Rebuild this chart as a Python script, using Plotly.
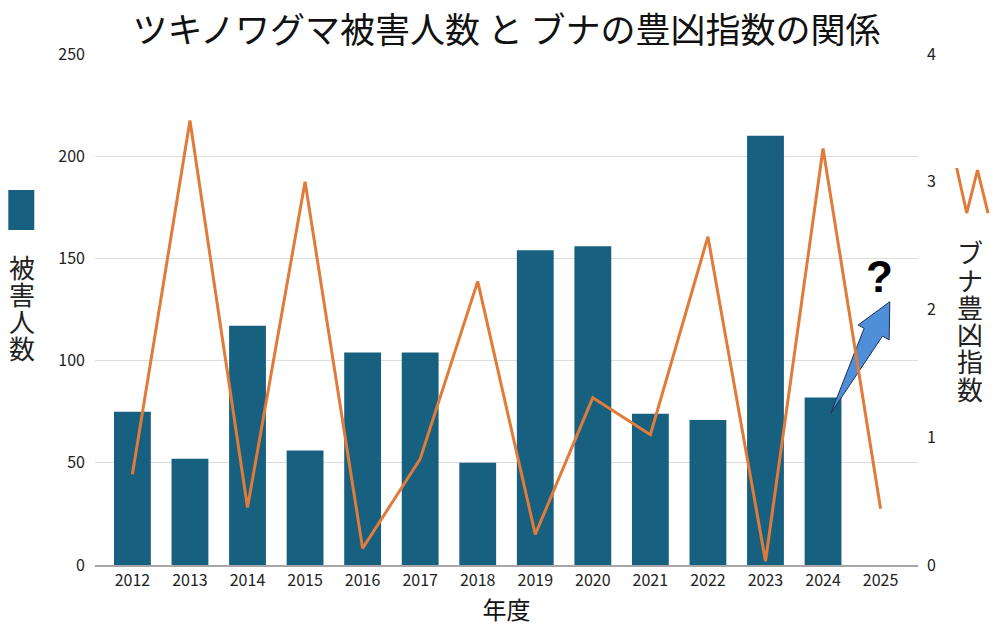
import plotly.graph_objects as go

# ---- data ----
years = [2012, 2013, 2014, 2015, 2016, 2017, 2018, 2019, 2020, 2021, 2022, 2023, 2024, 2025]
victims = [75, 52, 117, 56, 104, 104, 50, 154, 156, 74, 71, 210, 82, None]
beech_index = [0.71, 3.48, 0.45, 3.0, 0.13, 0.83, 2.22, 0.24, 1.31, 1.02, 2.57, 0.03, 3.26, 0.44]
left_ticks = [0, 50, 100, 150, 200, 250]
right_ticks = [0, 1, 2, 3, 4]

title_text = "ツキノワグマ被害人数 と ブナの豊凶指数の関係"
left_label = "被害人数"
right_label = "ブナ豊凶指数"
x_label = "年度"

# ---- layout geometry (pixels) ----
W, H = 1005, 636
L, R, T, B = 95, 87, 54, 71
PW, PH = W - L - R, H - T - B

def px(xp):
    return (xp - L) / PW

def py(yp):
    return (H - B - yp) / PH

BAR_COLOR = "#17607f"
LINE_COLOR = "#e07b39"
FONT = "Noto Sans CJK JP"

# arrow decoration (data coordinates: year, victims)
arrow_x = [2024.135, 2024.714, 2024.61, 2025.16, 2025.149, 2025.034, 2024.135]
arrow_y = [74.2, 115.8, 117.4, 128.8, 110.1, 112.0, 74.2]

fig = go.Figure()
fig.add_trace(go.Bar(
    x=years, y=victims, width=0.64,
    marker=dict(color=BAR_COLOR, line=dict(width=0)),
    yaxis="y", name=left_label,
))
fig.add_trace(go.Scatter(
    x=arrow_x, y=arrow_y, mode="lines", fill="toself",
    fillcolor="#4f8fd9", line=dict(color="#1f2f4f", width=1),
    yaxis="y", hoverinfo="skip", showlegend=False,
))
fig.add_trace(go.Scatter(
    x=years, y=beech_index, mode="lines",
    line=dict(color=LINE_COLOR, width=3),
    yaxis="y2", name=right_label,
))

annotations = []
annotations.append(dict(
    x=2024.98, y=141, xref="x", yref="y", text="<b>?</b>", showarrow=False,
    font=dict(family="Liberation Sans", size=44, color="#000000"),
))
# vertical legend labels
for i, ch in enumerate(left_label):
    annotations.append(dict(
        x=px(21.5), y=py(266 + i * 27.3), xref="paper", yref="paper",
        text=ch, showarrow=False, xanchor="center", yanchor="middle",
        font=dict(family=FONT, size=26, color="#222222"),
    ))
for i, ch in enumerate(right_label):
    annotations.append(dict(
        x=px(970), y=py(251.7 + i * 27.3), xref="paper", yref="paper",
        text=ch, showarrow=False, xanchor="center", yanchor="middle",
        font=dict(family=FONT, size=26, color="#222222"),
    ))

shapes = [
    dict(type="rect", xref="paper", yref="paper",
         x0=px(8.3), x1=px(34.3), y0=py(230), y1=py(190),
         fillcolor=BAR_COLOR, line=dict(width=0)),
    dict(type="path", xref="paper", yref="paper",
         path="M {:.4f},{:.4f} L {:.4f},{:.4f} L {:.4f},{:.4f} L {:.4f},{:.4f}".format(
             px(956.7), py(168), px(966.7), py(213), px(977.5), py(170), px(988), py(213)),
         line=dict(color=LINE_COLOR, width=3)),
]

fig.update_layout(
    width=W, height=H,
    margin=dict(l=L, r=R, t=T, b=B),
    paper_bgcolor="white", plot_bgcolor="white",
    showlegend=False,
    font=dict(family=FONT, color="#222222"),
    title=dict(text=title_text, x=0.5, xref="paper", xanchor="center",
               y=1 - 31 / H, yref="container", yanchor="middle",
               font=dict(family=FONT, size=35, color="#111111")),
    xaxis=dict(
        range=[2011.35, 2025.65], type="linear",
        tickvals=years, ticktext=[str(y) for y in years],
        showgrid=False, zeroline=False,
        showline=True, linecolor="#a6a6a6", linewidth=1.5,
        ticks="", tickfont=dict(size=16, color="#222222"),
        title=dict(text=x_label, font=dict(size=24, color="#111111"), standoff=12),
    ),
    yaxis=dict(
        range=[0, 250], tickvals=left_ticks,
        showgrid=True, gridcolor="#dcdcdc", gridwidth=1,
        zeroline=False, showline=False, ticks="",
        tickfont=dict(size=16, color="#222222"), ticklabelstandoff=9,
    ),
    yaxis2=dict(
        range=[0, 4], tickvals=right_ticks, overlaying="y", side="right",
        showgrid=False, zeroline=False, showline=False, ticks="",
        tickfont=dict(size=16, color="#222222"), ticklabelstandoff=8,
    ),
    annotations=annotations,
    shapes=shapes,
)

fig.write_html(
    "out.html",
    config={"displayModeBar": False},
    post_script="document.body.style.margin='0px';document.body.style.overflow='hidden';",
)
